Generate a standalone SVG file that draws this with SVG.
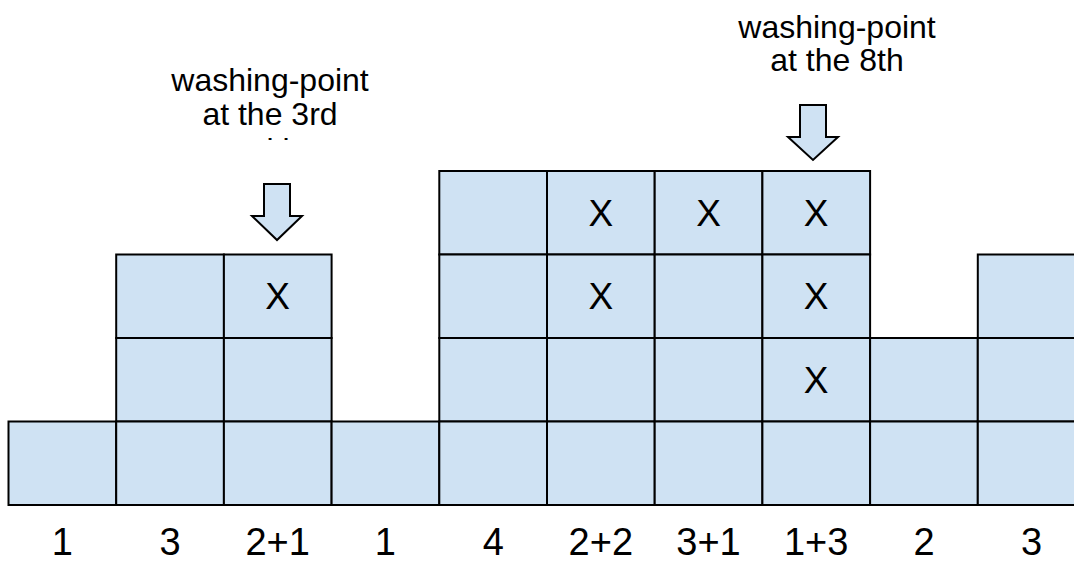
<svg xmlns="http://www.w3.org/2000/svg" width="1074" height="561" viewBox="0 0 1074 561">
<style>
.cell{fill:#cfe2f3;stroke:#000;stroke-width:2}
.arrow{fill:#cfe2f3;stroke:#000;stroke-width:2;stroke-linejoin:miter}
.x{font-family:"Liberation Sans",Arial,sans-serif;font-size:37px;fill:#000;text-anchor:middle}
.lbl{font-family:"Liberation Sans",Arial,sans-serif;font-size:38px;fill:#000;text-anchor:middle}
.note{font-family:"Liberation Sans",Arial,sans-serif;font-size:32px;fill:#000;text-anchor:middle}
</style>
<defs>
<clipPath id="clipNote"><rect x="150" y="40" width="240" height="100"/></clipPath>
</defs>
<rect width="1074" height="561" fill="#fff"/>
<g id="col0">
<rect class="cell" x="8.5" y="421.5" width="107.7" height="83.5"/>
</g>
<g id="col1">
<rect class="cell" x="116.2" y="254.5" width="107.7" height="83.5"/>
<rect class="cell" x="116.2" y="338" width="107.7" height="83.5"/>
<rect class="cell" x="116.2" y="421.5" width="107.7" height="83.5"/>
</g>
<g id="col2">
<rect class="cell" x="223.9" y="254.5" width="107.7" height="83.5"/>
<rect class="cell" x="223.9" y="338" width="107.7" height="83.5"/>
<rect class="cell" x="223.9" y="421.5" width="107.7" height="83.5"/>
<text class="x" x="277.7" y="309">X</text>
</g>
<g id="col3">
<rect class="cell" x="331.6" y="421.5" width="107.7" height="83.5"/>
</g>
<g id="col4">
<rect class="cell" x="439.3" y="171" width="107.7" height="83.5"/>
<rect class="cell" x="439.3" y="254.5" width="107.7" height="83.5"/>
<rect class="cell" x="439.3" y="338" width="107.7" height="83.5"/>
<rect class="cell" x="439.3" y="421.5" width="107.7" height="83.5"/>
</g>
<g id="col5">
<rect class="cell" x="547" y="171" width="107.7" height="83.5"/>
<rect class="cell" x="547" y="254.5" width="107.7" height="83.5"/>
<rect class="cell" x="547" y="338" width="107.7" height="83.5"/>
<rect class="cell" x="547" y="421.5" width="107.7" height="83.5"/>
<text class="x" x="600.8" y="225.5">X</text>
<text class="x" x="600.8" y="309">X</text>
</g>
<g id="col6">
<rect class="cell" x="654.7" y="171" width="107.7" height="83.5"/>
<rect class="cell" x="654.7" y="254.5" width="107.7" height="83.5"/>
<rect class="cell" x="654.7" y="338" width="107.7" height="83.5"/>
<rect class="cell" x="654.7" y="421.5" width="107.7" height="83.5"/>
<text class="x" x="708.5" y="225.5">X</text>
</g>
<g id="col7">
<rect class="cell" x="762.4" y="171" width="107.7" height="83.5"/>
<rect class="cell" x="762.4" y="254.5" width="107.7" height="83.5"/>
<rect class="cell" x="762.4" y="338" width="107.7" height="83.5"/>
<rect class="cell" x="762.4" y="421.5" width="107.7" height="83.5"/>
<text class="x" x="816.2" y="225.5">X</text>
<text class="x" x="816.2" y="309">X</text>
<text class="x" x="816.2" y="392.5">X</text>
</g>
<g id="col8">
<rect class="cell" x="870.1" y="338" width="107.7" height="83.5"/>
<rect class="cell" x="870.1" y="421.5" width="107.7" height="83.5"/>
</g>
<g id="col9">
<rect class="cell" x="977.8" y="254.5" width="107.7" height="83.5"/>
<rect class="cell" x="977.8" y="338" width="107.7" height="83.5"/>
<rect class="cell" x="977.8" y="421.5" width="107.7" height="83.5"/>
</g>
<g id="labels">
<text class="lbl" x="62.4" y="555">1</text>
<text class="lbl" x="170" y="555">3</text>
<text class="lbl" x="277.7" y="555">2+1</text>
<text class="lbl" x="385.4" y="555">1</text>
<text class="lbl" x="493.2" y="555">4</text>
<text class="lbl" x="600.8" y="555">2+2</text>
<text class="lbl" x="708.5" y="555">3+1</text>
<text class="lbl" x="816.2" y="555">1+3</text>
<text class="lbl" x="924" y="555">2</text>
<text class="lbl" x="1031.6" y="555">3</text>
</g>
<g id="note3">
<g clip-path="url(#clipNote)">
<text class="note" x="270" y="91">washing-point</text>
<text class="note" x="270" y="125">at the 3rd</text>
<text class="note" x="270" y="161">position</text>
</g>
</g>
<g id="note8">
<text class="note" x="837" y="38">washing-point</text>
<text class="note" x="837" y="71">at the 8th</text>
</g>
<g id="connectors">
<polygon id="arrow3" class="arrow" points="264,184 290,184 290,216 302,216 277,240 252,216 264,216"/>
<polygon id="arrow8" class="arrow" points="800,105 826,105 826,137 838,137 813,160 788,137 800,137"/>
</g>
</svg>
